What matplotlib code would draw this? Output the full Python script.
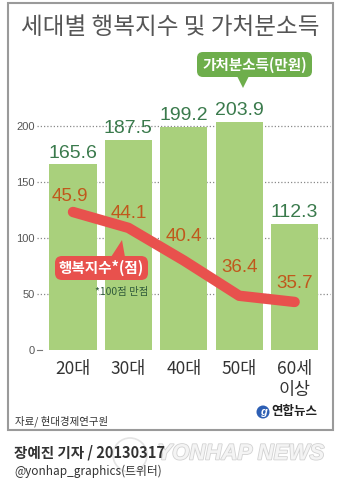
import matplotlib
matplotlib.use('Agg')
import matplotlib.pyplot as plt
import matplotlib.patheffects as pe
from matplotlib.patches import Rectangle, FancyBboxPatch, Polygon, Circle
from matplotlib.lines import Line2D

# 세대별 가처분소득(만원) / 행복지수(점)
ages = ['20대', '30대', '40대', '50대', '60세\n이상']
income = [165.6, 187.5, 199.2, 203.9, 112.3]
happiness = [45.9, 44.1, 40.4, 36.4, 35.7]
yticks = [0, 50, 100, 150, 200]

KR = ['Noto Sans CJK KR', 'DejaVu Sans']
NUM = ['Liberation Sans Narrow', 'Liberation Sans', 'DejaVu Sans']
plt.rcParams['font.family'] = KR

W, H = 340, 496
fig = plt.figure(figsize=(W / 100, H / 100), dpi=100)
fig.patch.set_facecolor('white')

# main bar axes
ax = fig.add_axes([40 / W, (H - 350) / H, 288 / W, 270 / H])
x = list(range(len(ages)))
ax.bar(x, income, width=0.85, color='#a9d07c', zorder=2)
ax.set_xlim(-0.596, 4.603)
ax.set_ylim(0, 241)
for v in yticks[1:]:
    ax.axhline(v, xmin=-0.01, xmax=1.007, color='#8a8a8a', lw=0.9,
               ls=(0, (1, 1.6)), zorder=1, clip_on=False)
for s in ax.spines.values():
    s.set_visible(False)
ax.set_yticks(yticks)
ax.set_yticklabels([str(t) for t in yticks], family=NUM)
ax.tick_params(axis='y', length=0, pad=4, labelsize=8, labelcolor='#555555')
ax.set_xticks(x)
ax.set_xticklabels(ages, linespacing=1.2)
ax.tick_params(axis='x', length=0, pad=7, labelsize=12.5, labelcolor='#333333')

for i, v in enumerate(income):
    ax.annotate(f'{v}', (i, v), xytext=(0, 2), textcoords='offset points',
                ha='center', va='bottom', fontsize=14, color='#3a7a4c',
                family=NUM, zorder=5)

# happiness index on its own hidden scale
ax2 = ax.twinx()
ax2.set_ylim(30.25, 60.87)
ax2.axis('off')
ax2.plot(x, happiness, color='#e8514d', lw=7.5, solid_capstyle='round',
         solid_joinstyle='round', zorder=3)
lift = [11, 10, 17, 20, 13]
for i, v in enumerate(happiness):
    ax2.annotate(f'{v}', (i, v), xytext=(-2 if i == 0 else 0, lift[i]),
                 textcoords='offset points', ha='center', va='center',
                 fontsize=13.5, color='#c0581c', family=NUM, zorder=5)

# overlay in pixel coordinates for the decorations
ov = fig.add_axes([0, 0, 1, 1])
ov.set_xlim(0, W)
ov.set_ylim(H, 0)
ov.axis('off')

ov.add_patch(Rectangle((8, 3), 325, 427, fill=False, ec='#9a9a9a', lw=1.5))
ov.add_line(Line2D([37, 42], [350, 350], color='#777777', lw=0.8))

ov.text(170, 27, '세대별 행복지수 및 가처분소득', ha='center', va='center',
        fontsize=17, color='#555555')

# income callout
ov.add_patch(FancyBboxPatch((197, 52), 115, 25, boxstyle='round,pad=0,rounding_size=6',
                            fc='#6eae4c', ec='none'))
ov.add_patch(Polygon([(237, 76), (249, 76), (243, 88)], closed=True, fc='#6eae4c', ec='none'))
ov.text(254.5, 64.5, '가처분소득(만원)', ha='center', va='center',
        fontsize=10.5, color='white', fontweight='bold')

# happiness callout
ov.add_patch(FancyBboxPatch((55, 256), 93, 24, boxstyle='round,pad=0,rounding_size=7',
                            fc='#e8514d', ec='none'))
ov.add_patch(Polygon([(111, 257), (125, 257), (122, 240)], closed=True, fc='#e8514d', ec='none'))
ov.text(101.5, 268, '행복지수*(점)', ha='center', va='center',
        fontsize=10.5, color='white', fontweight='bold')
ov.text(122, 292, '*100점 만점', ha='center', va='center',
        fontsize=7.5, color='#2f5a3a', style='italic')

# source and logo
ov.text(15, 421, '자료/ 현대경제연구원', ha='left', va='center',
        fontsize=7.5, color='#333333')
ov.add_patch(Circle((263, 412), 6.5, fc='#2d5fb4', ec='none'))
ov.text(263, 412, 'g', ha='center', va='center', fontsize=8, color='white',
        style='italic', fontweight='bold', family=NUM)
ov.text(271, 412, '연합뉴스', ha='left', va='center', fontsize=9,
        color='#222222', fontweight='bold')

# watermark
ov.add_patch(Circle((130, 455), 17, fill=False, ec='#e4e4e4', lw=1.2))
ov.text(241, 454, 'YONHAP NEWS', ha='center', va='center', fontsize=16,
        fontweight='bold', style='italic', color='#f4f4f4', family=NUM,
        path_effects=[pe.withStroke(linewidth=1.2, foreground='#d2d2d2')])

ov.text(14, 452, '장예진 기자 / 20130317', ha='left', va='center',
        fontsize=10.5, color='#333333', fontweight='bold')
ov.text(14, 471, '@yonhap_graphics(트위터)', ha='left', va='center',
        fontsize=8.5, color='#333333')

fig.savefig('out.png', dpi=100)
